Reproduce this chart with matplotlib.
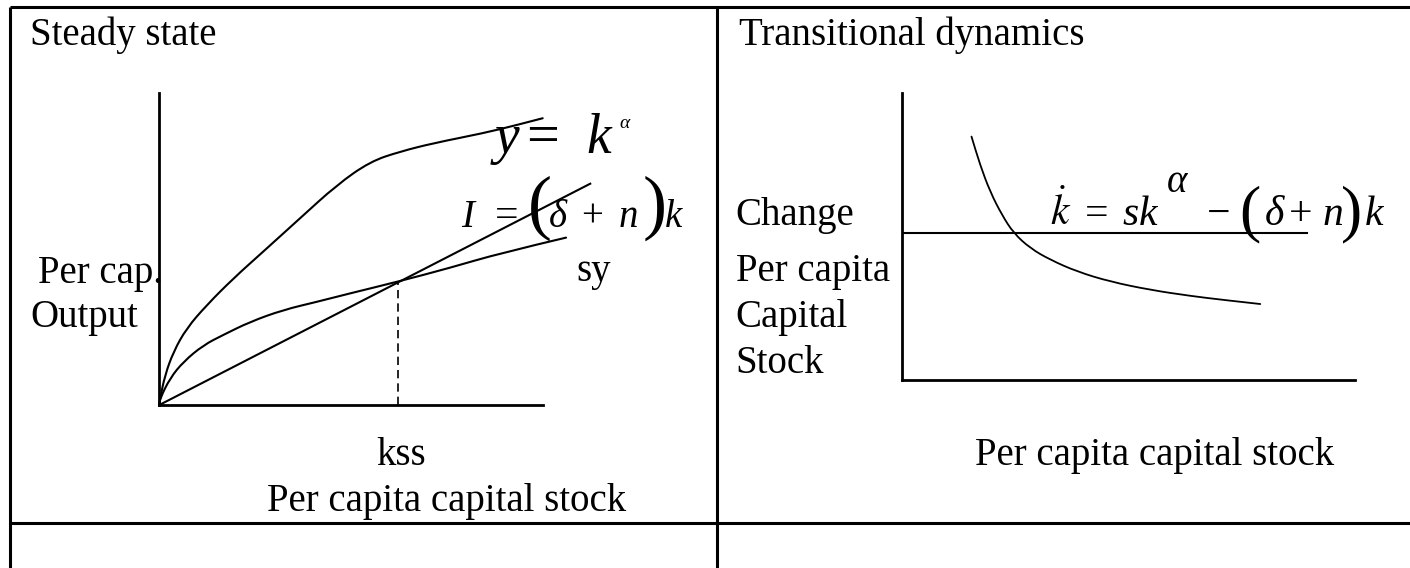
import matplotlib
matplotlib.use('Agg')
import matplotlib.pyplot as plt
from matplotlib.path import Path
from matplotlib.patches import PathPatch

plt.rcParams['font.family'] = ['Liberation Serif', 'DejaVu Serif']
plt.rcParams['mathtext.fontset'] = 'stix'

# Steady state panel (axis units 0-10 both ways)
output_k = [0, 0.02, 0.15, 0.37, 0.71, 1.24, 1.93, 2.71, 3.67, 4.63, 5.50, 6.28, 7.15, 8.45, 9.32, 10.0]
output_y = [0, 0.21, 0.96, 1.71, 2.46, 3.21, 4.06, 4.92, 5.99, 7.06, 7.81, 8.13, 8.40, 8.72, 8.98, 9.20]
saving_k = [0, 0.02, 0.28, 0.63, 1.15, 1.67, 2.37, 3.23, 4.11, 4.97, 6.23, 7.58, 8.89, 10.61]
saving_y = [0, 0.21, 0.86, 1.39, 1.92, 2.25, 2.67, 3.05, 3.31, 3.58, 3.96, 4.40, 4.87, 5.37]
invest_k = [0, 11.24]
invest_y = [0, 7.10]
k_ss = 6.23
y_ss = 3.96

# Transitional dynamics panel
growth_k = [1.54, 1.73, 1.95, 2.21, 2.47, 2.84, 3.28, 3.87, 4.60, 5.49, 6.38, 7.11, 7.91]
growth_v = [8.49, 7.50, 6.57, 5.76, 5.12, 4.59, 4.19, 3.78, 3.43, 3.14, 2.93, 2.79, 2.65]
zero_level = 5.14
zero_end = 8.95

W, H = 1410, 568
fig = plt.figure(figsize=(W / 100, H / 100), dpi=100)

# background axes in pixel units for the table frame and the labels
bg = fig.add_axes([0, 0, 1, 1])
bg.set_xlim(0, W)
bg.set_ylim(H, 0)
bg.axis('off')

top, left, mid, row = 7, 10, 717, 522.7
frame = dict(color='black', lw=2.2, solid_capstyle='butt')
bg.plot([left, W], [top, top], **frame)
bg.plot([left, W], [row, row], **frame)
bg.plot([left, left], [top, H], **frame)
bg.plot([mid, mid], [top, H], **frame)

lab = dict(fontsize=28, va='baseline', ha='left')
bg.text(30, 45, 'Steady state', **lab)
bg.text(38, 283.3, 'Per cap.', **lab)
bg.text(30, 327.3, 'Output', **lab)
bg.text(576, 281, 'sy', **lab)
bg.text(401.3, 465, 'kss', fontsize=28, va='baseline', ha='center')
bg.text(266.7, 510.7, 'Per capita capital stock', **lab)

bg.text(738.7, 45, 'Transitional dynamics', **lab)
bg.text(735.7, 225, 'Change', **lab)
bg.text(735.7, 280.7, 'Per capita', **lab)
bg.text(735.7, 326.7, 'Capital', **lab)
bg.text(735.7, 373.3, 'Stock', **lab)
bg.text(975, 465, 'Per capita capital stock', **lab)


def glyph(x, y, s, size, style='italic', va='baseline'):
    bg.text(x, y, s, fontsize=size, style=style, ha='center', va=va)


# y = k^alpha
glyph(506.7, 153, 'y', 40)
glyph(542.5, 153, '=', 42, 'normal')
glyph(598.3, 153, 'k', 40)
glyph(625, 128, 'α', 14)

# I = (delta + n) k
glyph(468, 226.7, 'I', 28)
glyph(506.5, 226.7, '=', 30, 'normal')
glyph(540, 208.4, '(', 52, 'normal', 'center')
glyph(558.3, 226.7, 'δ', 28)
glyph(592.3, 226.7, '+', 28, 'normal')
glyph(628.3, 226.7, 'n', 28)
glyph(655, 208.4, ')', 52, 'normal', 'center')
glyph(674, 226.7, 'k', 28)

# k-dot = s k^alpha - (delta + n) k
bg.text(1061, 225, r'$\dot{k}$', fontsize=30, ha='center', va='baseline')
glyph(1096.5, 225, '=', 30, 'normal')
glyph(1130.5, 225, 's', 30)
glyph(1148, 225, 'k', 30)
glyph(1177.5, 192, 'α', 28)
glyph(1218.5, 225, '\u2212', 30, 'normal')
glyph(1250, 214.2, '(', 46, 'normal', 'center')
glyph(1274, 225, 'δ', 30)
glyph(1301, 225, '+', 30, 'normal')
glyph(1332.5, 225, 'n', 30)
glyph(1351.7, 214.2, ')', 46, 'normal', 'center')
glyph(1374, 225, 'k', 30)


def diagram(x0, y_bottom, x_span, y_span, xmax):
    ax = fig.add_axes([x0 / W, (H - y_bottom) / H, x_span / W, y_span / H])
    ax.set_xlim(0, xmax)
    ax.set_ylim(0, 10)
    ax.patch.set_visible(False)
    ax.set_xticks([])
    ax.set_yticks([])
    for side in ['top', 'right']:
        ax.spines[side].set_visible(False)
    for side in ['left', 'bottom']:
        ax.spines[side].set_linewidth(2.0)
        ax.spines[side].set_bounds(0, 10)
    return ax


def smooth(ax, xs, ys, lw):
    # quadratic bezier through the read points, drawn by matplotlib's path
    pts = list(zip(xs, ys))
    verts = [pts[0]]
    codes = [Path.MOVETO]
    if len(pts) > 2:
        verts.append(((pts[0][0] + pts[1][0]) / 2, (pts[0][1] + pts[1][1]) / 2))
        codes.append(Path.LINETO)
        for i in range(1, len(pts) - 1):
            nxt = pts[i + 1]
            end = nxt if i == len(pts) - 2 else ((pts[i][0] + nxt[0]) / 2, (pts[i][1] + nxt[1]) / 2)
            verts += [pts[i], end]
            codes += [Path.CURVE3, Path.CURVE3]
    else:
        verts.append(pts[1])
        codes.append(Path.LINETO)
    ax.add_patch(PathPatch(Path(verts, codes), facecolor='none', edgecolor='black',
                           lw=lw, clip_on=False, capstyle='round', joinstyle='round'))


# left diagram: 38.34 px per unit along k, 31.17 px per unit along y
ax1 = diagram(159.3, 405, 11.5 * 38.34, 311.7, 11.5)
smooth(ax1, output_k, output_y, 1.5)
smooth(ax1, saving_k, saving_y, 1.5)
ax1.plot(invest_k, invest_y, color='black', lw=1.5, clip_on=False)
ax1.plot([k_ss, k_ss], [0, y_ss], color='black', lw=1.2, ls=(0, (5, 3)))

# right diagram
ax2 = diagram(901.7, 380, 453.3, 286.7, 10)
ax2.plot([0, zero_end], [zero_level, zero_level], color='black', lw=1.5)
smooth(ax2, growth_k, growth_v, 1.3)

fig.savefig('out.png', dpi=100)
